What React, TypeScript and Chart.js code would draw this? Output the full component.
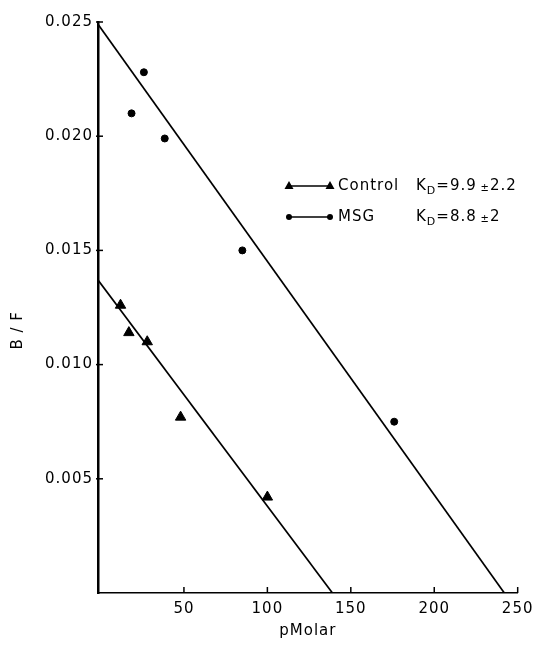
import React, { useEffect, useRef } from "react";
import { Chart, registerables } from "chart.js";

Chart.register(...registerables);

const xTicks = [50, 100, 150, 200, 250];
const yTicks = [0.005, 0.01, 0.015, 0.02, 0.025];

const controlX = [12, 17, 28, 48, 100];
const controlY = [0.0126, 0.0114, 0.011, 0.0077, 0.0042];
const msgX = [18.6, 26, 38.5, 85, 176];
const msgY = [0.021, 0.0228, 0.0199, 0.015, 0.0075];

const controlFitX = [-1.5, 139];
const controlFitY = [0.0137, 0];
const msgFitX = [-1.5, 242];
const msgFitY = [0.0249, 0];

const legendRows = [
  { name: "Control", k: "=9.9 ", pm: "2.2", marker: "triangle" },
  { name: "MSG", k: "=8.8 ", pm: "2", marker: "circle" },
];

const yTitle = "B / F";
const xTitle = "pMolar";

const FONT = "'DejaVu Sans', sans-serif";

const zip = (xs: number[], ys: number[]) => xs.map((x, i) => ({ x, y: ys[i] }));

const spacing = {
  id: "spacing",
  beforeDraw(chart: any) {
    (chart.ctx as any).letterSpacing = "1px";
  },
};

const innerTicks = {
  id: "innerTicks",
  afterDraw(chart: any) {
    const { ctx, scales } = chart;
    const xs = scales.x;
    const ys = scales.y;
    ctx.save();
    ctx.strokeStyle = "#000";
    ctx.lineWidth = 1.5;
    xTicks.forEach((v) => {
      const px = xs.getPixelForValue(v);
      ctx.beginPath();
      ctx.moveTo(px, ys.bottom);
      ctx.lineTo(px, ys.bottom - 6);
      ctx.stroke();
    });
    yTicks.forEach((v) => {
      const py = ys.getPixelForValue(v);
      ctx.beginPath();
      ctx.moveTo(xs.left - 2, py);
      ctx.lineTo(xs.left + 5, py);
      ctx.stroke();
    });
    // y axis title
    ctx.fillStyle = "#000";
    ctx.font = `15px ${FONT}`;
    ctx.textAlign = "center";
    ctx.textBaseline = "middle";
    (ctx as any).letterSpacing = "1px";
    ctx.translate(18, ys.top + (ys.bottom - ys.top) * 0.54);
    ctx.rotate(-Math.PI / 2);
    ctx.fillText(yTitle, 0, 0);
    ctx.restore();
  },
};

const legendPlugin = {
  id: "customLegend",
  afterDraw(chart: any) {
    const { ctx } = chart;
    ctx.save();
    ctx.fillStyle = "#000";
    ctx.strokeStyle = "#000";
    ctx.textBaseline = "middle";
    ctx.textAlign = "left";
    (ctx as any).letterSpacing = "1px";
    const rowY = [186, 217];
    legendRows.forEach((row, i) => {
      const y = rowY[i];
      const x0 = 289;
      const x1 = 330;
      ctx.lineWidth = 1.5;
      ctx.beginPath();
      ctx.moveTo(x0, y);
      ctx.lineTo(x1, y);
      ctx.stroke();
      [x0, x1].forEach((mx) => {
        ctx.beginPath();
        if (row.marker === "triangle") {
          ctx.moveTo(mx, y - 5);
          ctx.lineTo(mx - 4.5, y + 3);
          ctx.lineTo(mx + 4.5, y + 3);
          ctx.closePath();
        } else {
          ctx.arc(mx, y, 3, 0, Math.PI * 2);
        }
        ctx.fill();
      });
      ctx.font = `15px ${FONT}`;
      ctx.fillText(row.name, 338, y);
      let x = 416;
      ctx.fillText("K", x, y);
      x += ctx.measureText("K").width;
      ctx.font = `11px ${FONT}`;
      ctx.fillText("D", x, y + 5);
      x += ctx.measureText("D").width;
      ctx.font = `15px ${FONT}`;
      ctx.fillText(row.k, x, y);
      x += ctx.measureText(row.k).width - 2;
      ctx.font = `10px ${FONT}`;
      ctx.fillText("\u00b1", x, y + 2);
      x += ctx.measureText("\u00b1").width;
      ctx.font = `15px ${FONT}`;
      ctx.fillText(row.pm, x, y);
    });
    ctx.restore();
  },
};

export default function App() {
  const ref = useRef<HTMLCanvasElement | null>(null);
  useEffect(() => {
    if (!ref.current) return;
    const chart = new Chart(ref.current, {
      type: "scatter",
      data: {
        datasets: [
          {
            label: "Control",
            data: zip(controlX, controlY),
            pointStyle: "triangle",
            pointRadius: 6,
            backgroundColor: "#000",
            borderColor: "#000",
            showLine: false,
          },
          {
            label: "MSG",
            data: zip(msgX, msgY),
            pointStyle: "circle",
            pointRadius: 3.5,
            backgroundColor: "#000",
            borderColor: "#000",
            showLine: false,
          },
          {
            label: "Control fit",
            data: zip(controlFitX, controlFitY),
            showLine: true,
            pointRadius: 0,
            borderColor: "#000",
            borderWidth: 1.7,
          },
          {
            label: "MSG fit",
            data: zip(msgFitX, msgFitY),
            showLine: true,
            pointRadius: 0,
            borderColor: "#000",
            borderWidth: 1.7,
          },
        ],
      },
      options: {
        animation: false,
        responsive: true,
        maintainAspectRatio: false,
        layout: { padding: { left: 0, top: 22, right: 20, bottom: 0 } },
        plugins: { legend: { display: false }, tooltip: { enabled: false } },
        scales: {
          x: {
            type: "linear",
            min: -1.5,
            max: 250,
            afterFit: (s: any) => {
              s.height = 53;
            },
            afterBuildTicks: (s: any) => {
              s.ticks = xTicks.map((v) => ({ value: v }));
            },
            grid: { display: false, drawTicks: false },
            border: { display: true, color: "#000", width: 1.5 },
            ticks: {
              color: "#000",
              padding: 7,
              font: { family: FONT, size: 15 },
              callback: (v: any) => String(v),
            },
            title: {
              display: true,
              text: xTitle,
              color: "#000",
              font: { family: FONT, size: 15 },
              padding: { top: 2, bottom: 6 },
            },
          },
          y: {
            type: "linear",
            min: 0,
            max: 0.025,
            afterFit: (s: any) => {
              s.width = 98;
            },
            afterBuildTicks: (s: any) => {
              s.ticks = yTicks.map((v) => ({ value: v }));
            },
            grid: { display: false, drawTicks: false },
            border: { display: true, color: "#000", width: 2.5 },
            ticks: {
              color: "#000",
              padding: 5,
              font: { family: FONT, size: 15 },
              callback: (v: any) => Number(v).toFixed(3),
            },
            title: { display: false },
          },
        },
      },
      plugins: [spacing, innerTicks, legendPlugin],
    });
    return () => chart.destroy();
  }, []);
  return (
    <div style={{ position: "absolute", left: 0, top: 0, width: 539, height: 646, background: "#fff" }}>
      <canvas ref={ref} />
    </div>
  );
}
